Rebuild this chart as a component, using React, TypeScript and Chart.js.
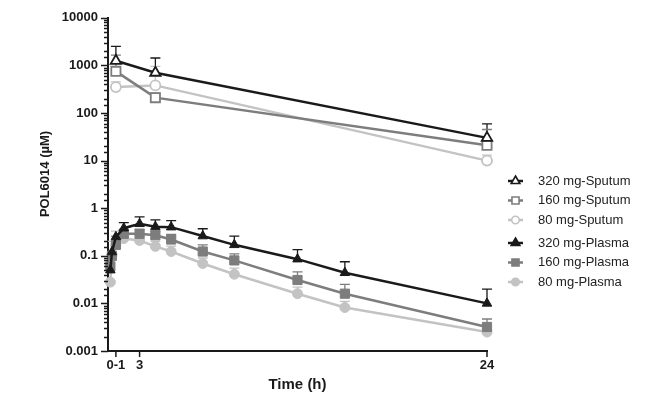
import React, { useEffect, useRef } from "react";
import { Chart, registerables } from "chart.js";
import { drawPoint } from "chart.js/helpers";

Chart.register(...registerables);

// ---- data ----
const plasmaTimes = [0.15, 0.25, 0.5, 1, 2, 3, 4, 6, 8, 12, 15, 24];
const sputumTimes = [0.5, 3, 24];

const sputum320 = [1250, 700, 30];
const sputum320Err = [2500, 1430, 59];
const sputum160 = [750, 210, 21];
const sputum160Err = [1650, 260, 45];
const sputum80 = [350, 380, 10];
const sputum80Err = [450, 950, 13];

const plasma320 = [0.05, 0.12, 0.25, 0.38, 0.47, 0.41, 0.4, 0.26, 0.17, 0.085, 0.044, 0.01];
const plasma320Err = [null, null, null, 0.5, 0.66, 0.57, 0.55, 0.37, 0.26, 0.135, 0.075, 0.02];
const plasma160 = [0.06, 0.1, 0.17, 0.29, 0.29, 0.27, 0.22, 0.123, 0.08, 0.031, 0.016, 0.0032];
const plasma160Err = [null, null, 0.26, 0.36, 0.36, 0.33, 0.28, 0.17, 0.11, 0.046, 0.025, 0.0047];
const plasma80 = [0.028, 0.105, 0.17, 0.23, 0.21, 0.158, 0.123, 0.069, 0.041, 0.016, 0.0082, 0.0025];
const plasma80Err = [null, 0.2, 0.33, 0.3, 0.27, 0.2, 0.16, 0.09, 0.055, 0.022, 0.011, 0.0035];

const seriesLabels = [
  "320 mg-Sputum",
  "160 mg-Sputum",
  "80 mg-Sputum",
  "320 mg-Plasma",
  "160 mg-Plasma",
  "80 mg-Plasma",
];

const xTickValues = [0.5, 2, 24];
const xTickLabels = ["0-1", "3", "24"];
const yTickLabels = ["0.001", "0.01", "0.1", "1", "10", "100", "1000", "10000"];

const xTitle = "Time (h)";
const yTitle = "POL6014 (\u00b5M)";

// ---- styles ----
const BLACK = "#1a1a1a";
const MID = "#7d7d7d";
const LIGHT = "#c3c3c3";
const FONT = "'Liberation Sans', Arial, Helvetica, sans-serif";

function makeSet(
  label: string,
  times: number[],
  vals: number[],
  errs: (number | null)[],
  color: string,
  style: string,
  open: boolean,
  radius: number
) {
  return {
    label,
    data: times.map((t, i) => ({ x: t, y: vals[i] })),
    errUpper: errs,
    borderColor: color,
    backgroundColor: color,
    borderWidth: 2.5,
    pointStyle: style,
    pointRadius: radius,
    pointBackgroundColor: open ? "#ffffff" : color,
    pointBorderColor: color,
    pointBorderWidth: open ? 1.8 : 1,
    tension: 0,
    fill: false,
    clip: false,
    isOpen: open,
  };
}

const errorBarPlugin = {
  id: "errorBars",
  beforeDatasetsDraw(chart: any) {
    const { ctx, scales } = chart;
    const x = scales.x;
    const y = scales.y;
    chart.data.datasets.forEach((ds: any) => {
      const errs = ds.errUpper;
      if (!errs) return;
      ctx.save();
      ctx.strokeStyle = ds.borderColor;
      ctx.lineWidth = 1.3;
      ds.data.forEach((p: any, i: number) => {
        const e = errs[i];
        if (e == null) return;
        const px = x.getPixelForValue(p.x);
        const py = y.getPixelForValue(p.y);
        const pe = y.getPixelForValue(e);
        ctx.beginPath();
        ctx.moveTo(px, py);
        ctx.lineTo(px, pe);
        ctx.moveTo(px - 5, pe);
        ctx.lineTo(px + 5, pe);
        ctx.stroke();
      });
      ctx.restore();
    });
  },
};

const tickMarksPlugin = {
  id: "tickMarks",
  afterDraw(chart: any) {
    const { ctx, scales, chartArea } = chart;
    const y = scales.y;
    const x = scales.x;
    ctx.save();
    ctx.strokeStyle = BLACK;
    ctx.lineWidth = 1.5;
    y.ticks.forEach((t: any) => {
      const py = Math.round(y.getPixelForValue(t.value)) + 0.5;
      const l = Math.log10(t.value);
      const major = Math.abs(l - Math.round(l)) < 1e-9;
      const len = major ? 7 : 4;
      ctx.beginPath();
      ctx.moveTo(chartArea.left, py);
      ctx.lineTo(chartArea.left - len, py);
      ctx.stroke();
    });
    x.ticks.forEach((t: any) => {
      const px = x.getPixelForValue(t.value);
      ctx.beginPath();
      ctx.moveTo(px, chartArea.bottom);
      ctx.lineTo(px, chartArea.bottom + 6);
      ctx.stroke();
    });
    // y-axis title
    ctx.translate(45, 174);
    ctx.rotate(-Math.PI / 2);
    ctx.font = `bold 13px ${FONT}`;
    ctx.fillStyle = BLACK;
    ctx.textAlign = "center";
    ctx.textBaseline = "middle";
    ctx.fillText(yTitle, 0, 0);
    ctx.restore();
  },
};

const customLegendPlugin = {
  id: "customLegend",
  afterDraw(chart: any) {
    const { ctx } = chart;
    const rowYs = [181, 200.5, 220, 243, 262.5, 282];
    const lineX0 = 508;
    const lineX1 = 523;
    const textX = 538;
    ctx.save();
    ctx.font = `13px ${FONT}`;
    ctx.textBaseline = "middle";
    ctx.textAlign = "left";
    chart.data.datasets.forEach((ds: any, i: number) => {
      const yy = rowYs[i];
      ctx.strokeStyle = ds.borderColor;
      ctx.lineWidth = 2.5;
      ctx.beginPath();
      ctx.moveTo(lineX0, yy);
      ctx.lineTo(lineX1, yy);
      ctx.stroke();
      ctx.fillStyle = ds.isOpen ? "#ffffff" : ds.borderColor;
      ctx.strokeStyle = ds.borderColor;
      ctx.lineWidth = 1.6;
      drawPoint(ctx, { pointStyle: ds.pointStyle, radius: ds.pointStyle === "circle" ? 3.8 : 5, rotation: 0, borderWidth: 1.6 } as any, (lineX0 + lineX1) / 2, yy);
      ctx.fillStyle = "#222";
      ctx.fillText(ds.label, textX, yy);
    });
    ctx.restore();
  },
};

export default function App() {
  const ref = useRef<HTMLCanvasElement>(null);
  useEffect(() => {
    document.body.style.margin = "0";
    const canvas = ref.current;
    if (!canvas) return;
    const datasets = [
      makeSet(seriesLabels[0], sputumTimes, sputum320, sputum320Err, BLACK, "triangle", true, 6),
      makeSet(seriesLabels[1], sputumTimes, sputum160, sputum160Err, MID, "rect", true, 6.5),
      makeSet(seriesLabels[2], sputumTimes, sputum80, sputum80Err, LIGHT, "circle", true, 5),
      makeSet(seriesLabels[3], plasmaTimes, plasma320, plasma320Err, BLACK, "triangle", false, 5.5),
      makeSet(seriesLabels[4], plasmaTimes, plasma160, plasma160Err, MID, "rect", false, 6.5),
      makeSet(seriesLabels[5], plasmaTimes, plasma80, plasma80Err, LIGHT, "circle", false, 5),
    ];
    const chart = new Chart(canvas, {
      type: "line",
      data: { datasets: datasets as any },
      plugins: [errorBarPlugin, tickMarksPlugin, customLegendPlugin],
      options: {
        responsive: false,
        animation: false,
        layout: { padding: { left: 0, right: 158, top: 13, bottom: 0 } },
        plugins: { legend: { display: false }, tooltip: { enabled: false } },
        scales: {
          x: {
            type: "linear",
            min: 0,
            max: 24,
            afterBuildTicks: (s: any) => {
              s.ticks = xTickValues.map((v) => ({ value: v }));
            },
            afterFit: (s: any) => {
              s.height = 44;
            },
            grid: { display: false, drawTicks: false },
            border: { display: true, color: BLACK, width: 2 },
            ticks: {
              autoSkip: false,
              maxRotation: 0,
              padding: 7,
              color: BLACK,
              font: { family: FONT, size: 13, weight: "bold" },
              callback: (v: any) => {
                const i = xTickValues.indexOf(Number(v));
                return i >= 0 ? xTickLabels[i] : "";
              },
            },
            title: {
              display: true,
              text: xTitle,
              color: BLACK,
              font: { family: FONT, size: 15, weight: "bold" },
              padding: { top: 0, bottom: 1 },
            },
          },
          y: {
            type: "logarithmic",
            min: 0.001,
            max: 10000,
            afterFit: (s: any) => {
              s.width = 108;
            },
            grid: { display: false, drawTicks: false },
            border: { display: true, color: BLACK, width: 2 },
            ticks: {
              autoSkip: false,
              padding: 10,
              color: BLACK,
              font: { family: FONT, size: 13, weight: "bold" },
              callback: (v: any) => {
                const l = Math.log10(Number(v));
                if (Math.abs(l - Math.round(l)) < 1e-9) {
                  return yTickLabels[Math.round(l) + 3];
                }
                return "";
              },
            },
            title: { display: false },
          },
        },
      } as any,
    });
    return () => chart.destroy();
  }, []);
  return (
    <div style={{ position: "absolute", left: 0, top: 0, width: 645, height: 395, background: "#fff" }}>
      <canvas ref={ref} width={645} height={395} style={{ display: "block" }} />
    </div>
  );
}
